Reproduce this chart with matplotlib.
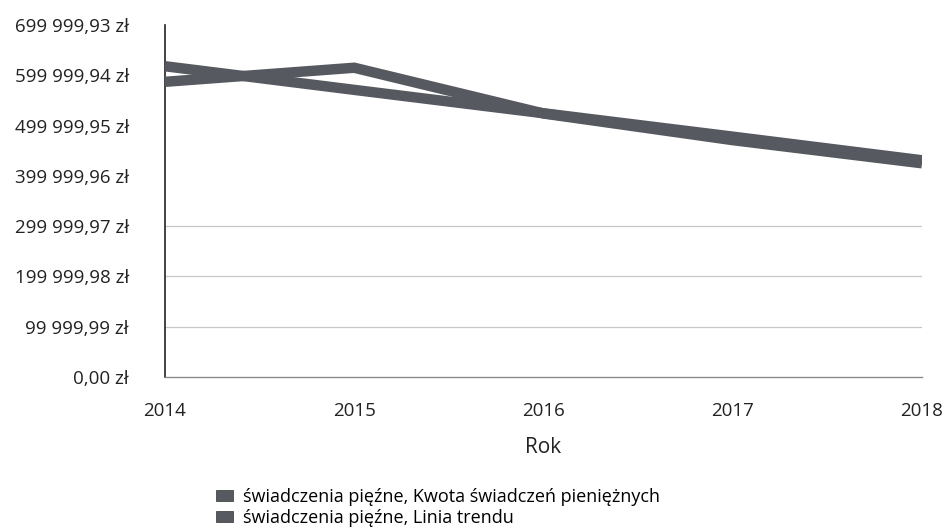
import matplotlib
matplotlib.use('Agg')
import matplotlib.pyplot as plt
from matplotlib.patches import Patch

plt.rcParams['font.family'] = ['Open Sans', 'DejaVu Sans']

lata = [2014, 2015, 2016, 2017, 2018]
kwota = [587000, 615000, 524000, 471000, 425000]
trend = [618000, 571000, 524500, 478000, 431000]

yticks = [0, 99999.99, 199999.98, 299999.97, 399999.96, 499999.95, 599999.94, 699999.93]
ytick_labels = ['0,00 zł', '99 999,99 zł', '199 999,98 zł', '299 999,97 zł',
                '399 999,96 zł', '499 999,95 zł', '599 999,94 zł', '699 999,93 zł']

kolor = '#56595f'

fig = plt.figure(figsize=(9.46, 5.30), dpi=100)
ax = fig.add_axes([165/946, 1 - 377/530, (922 - 165)/946, (377 - 25)/530])

ax.plot(lata, kwota, color=kolor, lw=7.5, solid_capstyle='butt', solid_joinstyle='miter', zorder=3)
ax.plot(lata, trend, color=kolor, lw=7.5, solid_capstyle='butt', solid_joinstyle='miter', zorder=3)

ax.set_xlim(2014, 2018)
ax.set_ylim(0, 700000)
ax.set_xticks(lata)
ax.set_xticklabels([str(r) for r in lata])
ax.set_yticks(yticks)
ax.set_yticklabels(ytick_labels)
ax.tick_params(axis='both', length=0, labelsize=13.5, colors='#222222')
ax.tick_params(axis='y', pad=26)
ax.tick_params(axis='x', pad=18)

# w skanie widoczne tylko dolne linie siatki
ax.grid(axis='y', color='#c8c8c8', lw=0.9)
for i, gl in enumerate(ax.yaxis.get_gridlines()):
    if i == 0 or i > 3:
        gl.set_visible(False)
ax.set_axisbelow(True)
for s in ['top', 'right']:
    ax.spines[s].set_visible(False)
ax.spines['left'].set_color('#222222')
ax.spines['left'].set_linewidth(1.2)
ax.spines['bottom'].set_color('#8a8a8a')
ax.spines['bottom'].set_linewidth(1.0)

ax.set_xlabel('Rok', fontsize=15, color='#222222', labelpad=12)

uchwyty = [Patch(facecolor=kolor, edgecolor='#333333', lw=0.5),
           Patch(facecolor=kolor, edgecolor='#333333', lw=0.5)]
fig.legend(uchwyty,
           ['świadczenia pięźne, Kwota świadczeń pieniężnych',
            'świadczenia pięźne, Linia trendu'],
           loc='upper left', bbox_to_anchor=(207/946, 1 - 479/530),
           frameon=False, fontsize=13, handlelength=0.95, handleheight=0.55,
           handletextpad=0.55, labelspacing=0.15, borderpad=0)

fig.savefig('out.png', dpi=100, facecolor='white')
